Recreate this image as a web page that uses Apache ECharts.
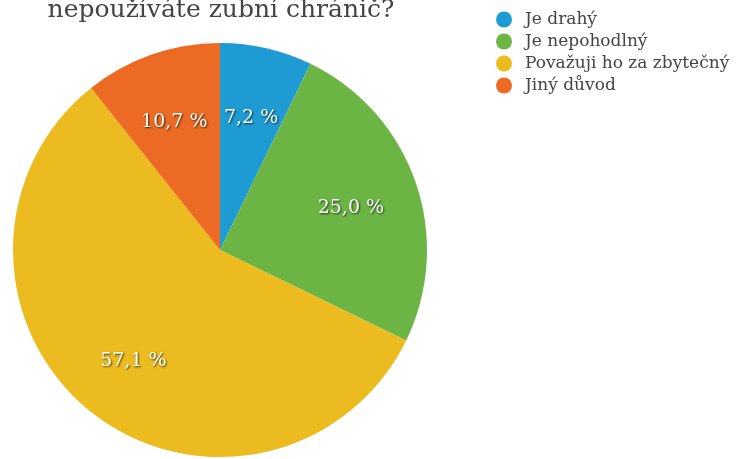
<!DOCTYPE html>
<html>
<head>
<meta charset="utf-8">
<script src="https://cdn.jsdelivr.net/npm/echarts@6/dist/echarts.min.js"></script>
<style>
  html, body { margin: 0; padding: 0; background: #ffffff; }
  #chart { width: 740px; height: 459px; }
</style>
</head>
<body>
<div id="chart"></div>
<script>
// Survey answers: why respondents do not use a mouthguard
const categories = ['Je drahý', 'Je nepohodlný', 'Považuji ho za zbytečný', 'Jiný důvod'];
const shares = [7.2, 25.0, 57.1, 10.7];
const colors = ['#1f9bd4', '#6cb545', '#ebbb20', '#ec6a23'];

const titleLines = ['Z jakého důvodu', 'nepoužíváte zubní chránič?'];

const serif = '"DejaVu Serif", Georgia, serif';
const center = [220, 250];
const outerR = 207;

const pieData = categories.map((name, i) => ({
  name: name,
  value: shares[i],
  itemStyle: { color: colors[i] }
}));

const chart = echarts.init(document.getElementById('chart'), null, { renderer: 'canvas' });

chart.setOption({
  animation: false,
  backgroundColor: '#ffffff',
  graphic: [
    {
      // two-line heading above the pie, running off the top edge
      type: 'text',
      x: 221,
      y: 26,
      silent: true,
      style: {
        text: titleLines.join('\n'),
        font: '25px "DejaVu Serif", Georgia, serif',
        fill: '#444444',
        lineHeight: 32,
        textAlign: 'center',
        textVerticalAlign: 'bottom'
      }
    }
  ],
  legend: {
    orient: 'vertical',
    left: 491,
    top: 6,
    icon: 'circle',
    itemWidth: 16,
    itemHeight: 16,
    itemGap: 5,
    data: categories,
    textStyle: {
      fontFamily: serif,
      fontSize: 17,
      color: '#444444',
      padding: [0, 0, 0, 8]
    }
  },
  series: [
    {
      // the coloured wedges
      type: 'pie',
      center: center,
      radius: [0, outerR],
      startAngle: 90,
      clockwise: true,
      silent: true,
      label: { show: false },
      labelLine: { show: false },
      data: pieData
    },
    {
      // transparent ring carrying the percentage labels further out
      type: 'pie',
      center: center,
      radius: [64, outerR],
      startAngle: 90,
      clockwise: true,
      silent: true,
      itemStyle: { color: 'rgba(0,0,0,0)' },
      label: {
        show: true,
        position: 'inside',
        offset: [0, 3],
        fontFamily: serif,
        fontSize: 19,
        color: '#ffffff',
        textShadowColor: 'rgba(0,0,0,0.7)',
        textShadowBlur: 2,
        textShadowOffsetX: 1,
        textShadowOffsetY: 1,
        formatter: p => p.value.toFixed(1).replace('.', ',') + ' %'
      },
      labelLine: { show: false },
      data: shares.map((v, i) => ({ name: categories[i], value: v }))
    }
  ]
});
</script>
</body>
</html>
